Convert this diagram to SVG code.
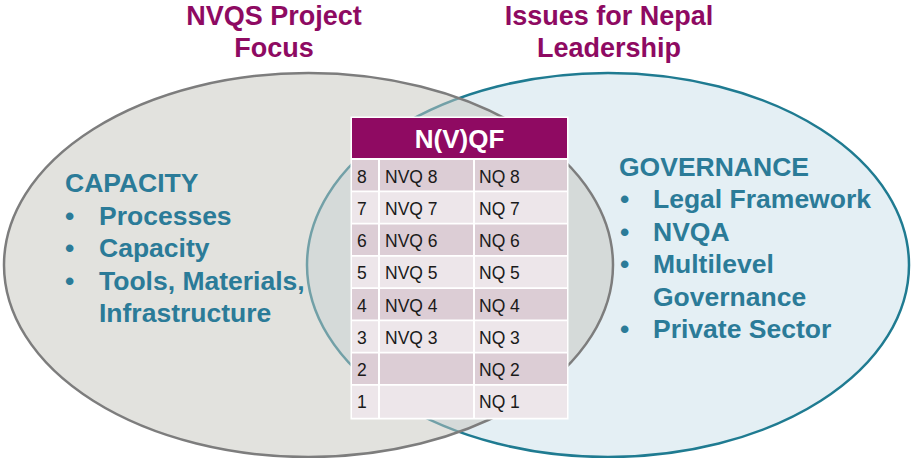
<svg xmlns="http://www.w3.org/2000/svg" width="911" height="458" viewBox="0 0 911 458">
<style>
.title{font-family:"Liberation Sans",Arial,sans-serif;font-weight:bold;font-size:27px;fill:#8e0a62;text-anchor:middle}
.body{font-family:"Liberation Sans",Arial,sans-serif;font-weight:bold;font-size:26.5px;fill:#2b7b98}
.cell{font-family:"Liberation Sans",Arial,sans-serif;font-size:17.5px;fill:#1a1a1a}
.hdr{font-family:"Liberation Sans",Arial,sans-serif;font-weight:bold;font-size:26px;fill:#ffffff;text-anchor:middle}
.dk{fill:#dccdd5}
.lt{fill:#ede6ea}
</style>
<rect width="911" height="458" fill="#ffffff"/>
<g id="set-governance">
<ellipse cx="608" cy="265" rx="301" ry="192" fill="#e4eff4" stroke="#1f7b91" stroke-width="2.5"/>
</g>
<g id="set-capacity">
<ellipse cx="308.5" cy="265" rx="304.5" ry="192" fill="#c5c5bd" fill-opacity="0.5"/>
<ellipse cx="308.5" cy="265" rx="304.5" ry="192" fill="none" stroke="#7d7d7d" stroke-width="2.5"/>
</g>
<g id="connectors"/>
<g id="title-nvqs">
<text class="title" x="274" y="25">NVQS Project</text>
<text class="title" x="274" y="57">Focus</text>
</g>
<g id="title-nepal">
<text class="title" x="609" y="25">Issues for Nepal</text>
<text class="title" x="609" y="57">Leadership</text>
</g>
<g id="capacity-text">
<text class="body" x="65" y="192">CAPACITY</text>
<text class="body" x="65" y="224.5">•</text><text class="body" x="99" y="224.5">Processes</text>
<text class="body" x="65" y="257">•</text><text class="body" x="99" y="257">Capacity</text>
<text class="body" x="65" y="289.5">•</text><text class="body" x="99" y="289.5">Tools, Materials,</text>
<text class="body" x="99" y="322">Infrastructure</text>
</g>
<g id="governance-text">
<text class="body" x="619" y="175.5">GOVERNANCE</text>
<text class="body" x="620" y="208">•</text><text class="body" x="653" y="208">Legal Framework</text>
<text class="body" x="620" y="240.5">•</text><text class="body" x="653" y="240.5">NVQA</text>
<text class="body" x="620" y="273">•</text><text class="body" x="653" y="273">Multilevel</text>
<text class="body" x="653" y="305.5">Governance</text>
<text class="body" x="620" y="338">•</text><text class="body" x="653" y="338">Private Sector</text>
</g>
<g id="nvqf-table">
<rect x="350.5" y="116.5" width="218" height="303" fill="#ffffff"/>
<rect x="352" y="118" width="215" height="40" fill="#8f0a62"/>
<text class="hdr" x="459.5" y="148">N(V)QF</text>
<rect class="dk" x="352" y="160" width="26" height="30.5"/><rect class="dk" x="380" y="160" width="93" height="30.5"/><rect class="dk" x="475" y="160" width="92" height="30.5"/>
<rect class="lt" x="352" y="192.25" width="26" height="30.5"/><rect class="lt" x="380" y="192.25" width="93" height="30.5"/><rect class="lt" x="475" y="192.25" width="92" height="30.5"/>
<rect class="dk" x="352" y="224.5" width="26" height="30.5"/><rect class="dk" x="380" y="224.5" width="93" height="30.5"/><rect class="dk" x="475" y="224.5" width="92" height="30.5"/>
<rect class="lt" x="352" y="256.75" width="26" height="30.5"/><rect class="lt" x="380" y="256.75" width="93" height="30.5"/><rect class="lt" x="475" y="256.75" width="92" height="30.5"/>
<rect class="dk" x="352" y="289" width="26" height="30.5"/><rect class="dk" x="380" y="289" width="93" height="30.5"/><rect class="dk" x="475" y="289" width="92" height="30.5"/>
<rect class="lt" x="352" y="321.25" width="26" height="30.5"/><rect class="lt" x="380" y="321.25" width="93" height="30.5"/><rect class="lt" x="475" y="321.25" width="92" height="30.5"/>
<rect class="dk" x="352" y="353.5" width="26" height="30.5"/><rect class="dk" x="380" y="353.5" width="93" height="30.5"/><rect class="dk" x="475" y="353.5" width="92" height="30.5"/>
<rect class="lt" x="352" y="385.75" width="26" height="32"/><rect class="lt" x="380" y="385.75" width="93" height="32"/><rect class="lt" x="475" y="385.75" width="92" height="32"/>
<text class="cell" x="357" y="182.5">8</text><text class="cell" x="385" y="182.5">NVQ 8</text><text class="cell" x="479" y="182.5">NQ 8</text>
<text class="cell" x="357" y="214.75">7</text><text class="cell" x="385" y="214.75">NVQ 7</text><text class="cell" x="479" y="214.75">NQ 7</text>
<text class="cell" x="357" y="247">6</text><text class="cell" x="385" y="247">NVQ 6</text><text class="cell" x="479" y="247">NQ 6</text>
<text class="cell" x="357" y="279.25">5</text><text class="cell" x="385" y="279.25">NVQ 5</text><text class="cell" x="479" y="279.25">NQ 5</text>
<text class="cell" x="357" y="311.5">4</text><text class="cell" x="385" y="311.5">NVQ 4</text><text class="cell" x="479" y="311.5">NQ 4</text>
<text class="cell" x="357" y="343.75">3</text><text class="cell" x="385" y="343.75">NVQ 3</text><text class="cell" x="479" y="343.75">NQ 3</text>
<text class="cell" x="357" y="376">2</text><text class="cell" x="479" y="376">NQ 2</text>
<text class="cell" x="357" y="408.25">1</text><text class="cell" x="479" y="408.25">NQ 1</text>
</g>
</svg>
